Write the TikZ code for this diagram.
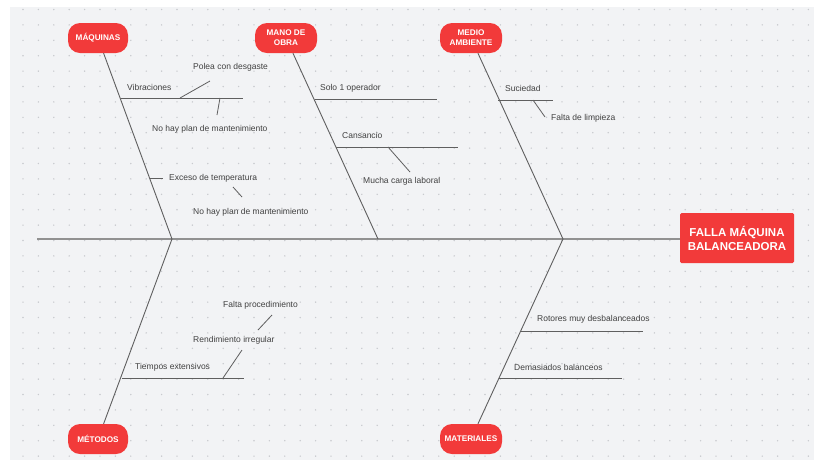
\documentclass[tikz,border=0pt]{standalone}
\usepackage{fontspec}
\setmainfont{Liberation Sans}
\definecolor{bgc}{RGB}{242,243,245}
\definecolor{dotc}{RGB}{200,202,206}
\definecolor{redc}{RGB}{242,58,58}
\definecolor{linec}{RGB}{95,95,95}
\definecolor{spinec}{RGB}{145,145,145}
\definecolor{txt}{RGB}{65,65,65}
\tikzset{
 pill/.style={fill=redc, rounded corners=12pt, minimum width=60pt, minimum height=30pt, text=white,
   font=\bfseries\fontsize{8.2}{10}\selectfont, align=center, inner sep=0pt},
 headbox/.style={fill=redc, rounded corners=1.5pt, minimum width=114pt, minimum height=50pt, text=white,
   font=\bfseries\fontsize{11.5}{14}\selectfont, align=center, inner sep=0pt},
 lbl/.style={anchor=west, inner sep=0pt, text=txt, font=\fontsize{8.5}{10}\selectfont},
 bone/.style={draw=linec, line width=0.9pt},
 subline/.style={draw=linec, line width=0.8pt},
 spine/.style={draw=spinec, line width=1.6pt},
}
\begin{document}
\begin{tikzpicture}[x=1pt,y=-1pt]
\useasboundingbox (0,0) rectangle (814,467);
\fill[white] (0,0) rectangle (814,467);
\fill[bgc] (10,7) rectangle (814,460);
\foreach \i in {0,...,51} \foreach \j in {0,...,29} \fill[dotc] (23+15.4*\i, 9.5+15.4*\j) circle (0.8);

% head and spine
\node[headbox] (head) at (737,238) {FALLA MÁQUINA\\BALANCEADORA};
\coordinate (tail) at (37,239);
\coordinate (j1) at (172,239);
\coordinate (j2) at (378,239);
\coordinate (j3) at (563,239);
\draw[spine] (tail) -- (head.west |- tail);

% categories
\node[pill] (m1) at (98,38) {MÁQUINAS};
\node[pill, minimum width=62pt] (m2) at (286,38) {MANO DE\\OBRA};
\node[pill, minimum width=62pt] (m3) at (471,38) {MEDIO\\AMBIENTE};
\node[pill] (m4) at (98,439) {MÉTODOS};
\node[pill, minimum width=62pt] (m5) at (471,439) {MATERIALES};

\draw[bone] (j1) -- (m1);
\draw[bone] (j2) -- (m2);
\draw[bone] (j3) -- (m3);
\draw[bone] (j1) -- (m4);
\draw[bone] (j3) -- (m5);

% MAQUINAS
\coordinate (a1) at (121,98); \coordinate (a2) at (243,98);
\draw[subline] (a1) -- (a2);
\node[lbl] (t1) at (127,87) {Vibraciones};
\coordinate (a3) at (180,98); \coordinate (a4) at (210,81);
\draw[subline] (a3) -- (a4);
\node[lbl] (t2) at (193,67) {Polea con desgaste};
\coordinate (a5) at (220,98); \coordinate (a6) at (217,115);
\draw[subline] (a5) -- (a6);
\node[lbl] (t3) at (152,129) {No hay plan de mantenimiento};
\coordinate (b1) at (150,178); \coordinate (b2) at (163,178);
\draw[subline] (b1) -- (b2);
\node[lbl] (t4) at (169,178) {Exceso de temperatura};
\coordinate (b3) at (233,187); \coordinate (b4) at (242,197);
\draw[subline] (b3) -- (b4);
\node[lbl] (t5) at (193,212) {No hay plan de mantenimiento};

% MANO DE OBRA
\node[lbl] (t6) at (320,88) {Solo 1 operador};
\coordinate (c1) at (315,99); \coordinate (c2) at (437,99);
\draw[subline] (c1) -- (c2);
\node[lbl] (t7) at (342,135) {Cansancio};
\coordinate (c3) at (336,147); \coordinate (c4) at (458,147);
\draw[subline] (c3) -- (c4);
\coordinate (c5) at (388,147); \coordinate (c6) at (410,172);
\draw[subline] (c5) -- (c6);
\node[lbl] (t8) at (363,181) {Mucha carga laboral};

% MEDIO AMBIENTE
\node[lbl] (t9) at (505,88) {Suciedad};
\coordinate (d1) at (498,100); \coordinate (d2) at (553,100);
\draw[subline] (d1) -- (d2);
\coordinate (d3) at (533,100); \coordinate (d4) at (545,117);
\draw[subline] (d3) -- (d4);
\node[lbl] (t10) at (551,118) {Falta de limpieza};

% METODOS
\node[lbl] (t11) at (135,367) {Tiempos extensivos};
\coordinate (e1) at (122,378); \coordinate (e2) at (244,378);
\draw[subline] (e1) -- (e2);
\coordinate (e3) at (223,378); \coordinate (e4) at (242,350);
\draw[subline] (e3) -- (e4);
\node[lbl] (t12) at (193,340) {Rendimiento irregular};
\coordinate (e5) at (258,330); \coordinate (e6) at (272,315);
\draw[subline] (e5) -- (e6);
\node[lbl] (t13) at (223,305) {Falta procedimiento};

% MATERIALES
\node[lbl] (t14) at (537,319) {Rotores muy desbalanceados};
\coordinate (f1) at (520,331); \coordinate (f2) at (643,331);
\draw[subline] (f1) -- (f2);
\node[lbl] (t15) at (514,367) {Demasiados balanceos};
\coordinate (f3) at (499,378); \coordinate (f4) at (622,378);
\draw[subline] (f3) -- (f4);
\end{tikzpicture}
\end{document}
